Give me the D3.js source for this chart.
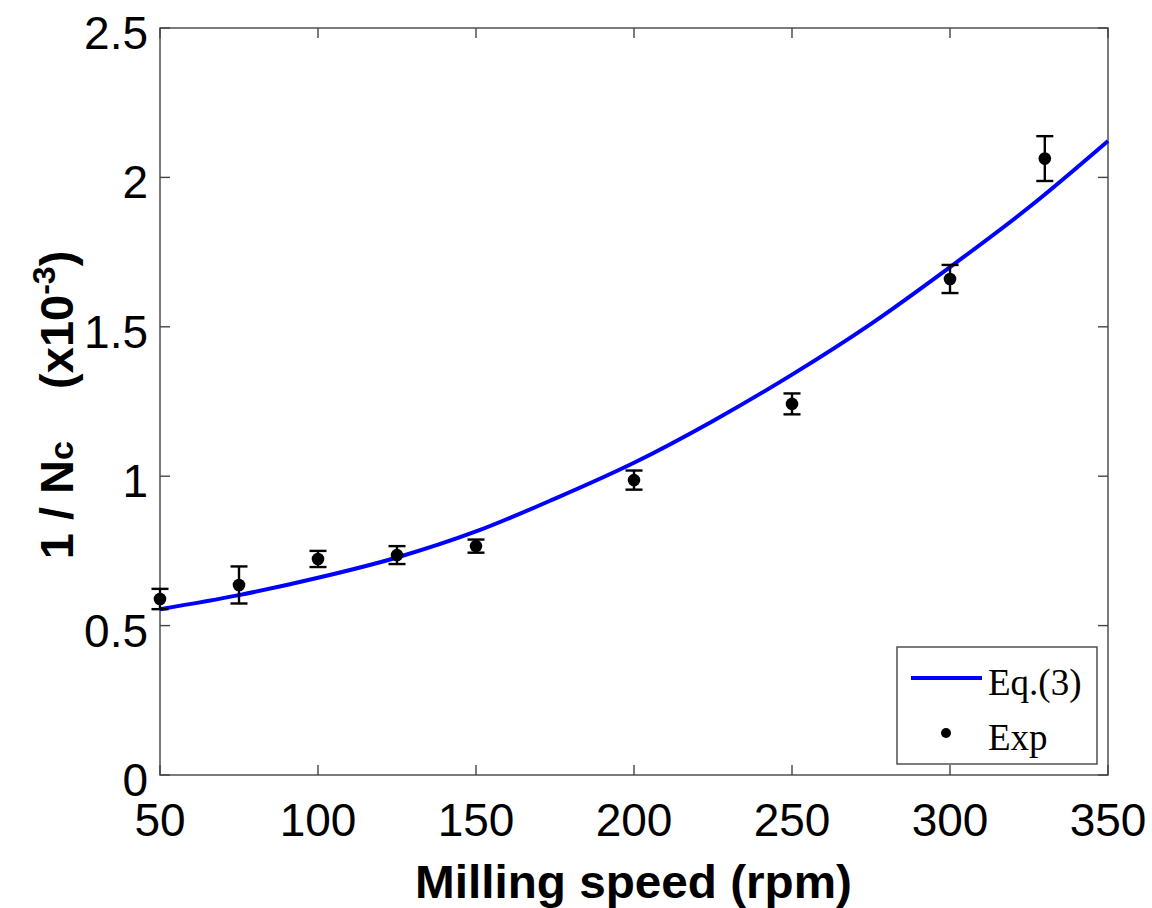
<!DOCTYPE html>
<html>
<head>
<meta charset="utf-8">
<script src="https://cdn.jsdelivr.net/npm/d3@7.9.0/dist/d3.min.js"></script>
<style>
  body { margin: 0; background: #fff; }
  svg { display: block; }
</style>
</head>
<body>
<svg id="chart" width="1152" height="908"></svg>
<script>
const speeds = [50, 75, 100, 125, 150, 200, 250, 300, 330];
const invNc = [0.589, 0.636, 0.723, 0.736, 0.766, 0.987, 1.242, 1.660, 2.063];
const errs = [0.034, 0.062, 0.027, 0.030, 0.022, 0.032, 0.035, 0.047, 0.075];

// Eq.(3) curve
const curveX = [50, 75, 100, 125, 150, 175, 200, 225, 250, 275, 300, 325, 350];
const curveY = [0.555, 0.602, 0.660, 0.728, 0.815, 0.925, 1.045, 1.185, 1.340, 1.510, 1.700, 1.900, 2.122];

const xTicks = [50, 100, 150, 200, 250, 300, 350];
const yTicks = [0, 0.5, 1, 1.5, 2, 2.5];

const svg = d3.select('#chart');
const plotL = 160, plotR = 1108, plotT = 28, plotB = 775;

const x = d3.scaleLinear().domain([50, 350]).range([plotL, plotR]);
const y = d3.scaleLinear().domain([0, 2.5]).range([plotB, plotT]);

const axisColor = '#444';
const tickFont = 'Liberation Sans, Arial, sans-serif';

// box
svg.append('rect')
  .attr('x', plotL).attr('y', plotT)
  .attr('width', plotR - plotL).attr('height', plotB - plotT)
  .attr('fill', 'none').attr('stroke', axisColor).attr('stroke-width', 1.4);

// ticks (inward, on all four sides)
const tickLen = 10;
xTicks.forEach(t => {
  svg.append('line').attr('x1', x(t)).attr('x2', x(t)).attr('y1', plotB).attr('y2', plotB - tickLen)
    .attr('stroke', axisColor).attr('stroke-width', 1.4);
  svg.append('line').attr('x1', x(t)).attr('x2', x(t)).attr('y1', plotT).attr('y2', plotT + tickLen)
    .attr('stroke', axisColor).attr('stroke-width', 1.4);
  svg.append('text').attr('x', x(t)).attr('y', plotB + 61)
    .attr('text-anchor', 'middle')
    .attr('font-family', tickFont).attr('font-size', 46)
    .text(t);
});
yTicks.forEach(t => {
  svg.append('line').attr('x1', plotL).attr('x2', plotL + tickLen).attr('y1', y(t)).attr('y2', y(t))
    .attr('stroke', axisColor).attr('stroke-width', 1.4);
  svg.append('line').attr('x1', plotR).attr('x2', plotR - tickLen).attr('y1', y(t)).attr('y2', y(t))
    .attr('stroke', axisColor).attr('stroke-width', 1.4);
  svg.append('text').attr('x', plotL - 12).attr('y', y(t) + 21)
    .attr('text-anchor', 'end')
    .attr('font-family', tickFont).attr('font-size', 46)
    .text(t);
});

// Eq.(3) line
const curveData = curveX.map((v, i) => ({ x: v, y: curveY[i] }));
const line = d3.line()
  .x(d => x(d.x))
  .y(d => y(d.y))
  .curve(d3.curveMonotoneX);

svg.append('path')
  .datum(curveData)
  .attr('d', line)
  .attr('fill', 'none')
  .attr('stroke', '#0000ff')
  .attr('stroke-width', 4);

// error bars + points
const pts = speeds.map((s, i) => ({ x: s, y: invNc[i], e: errs[i] }));
const capW = 8.5;
const eb = svg.append('g').attr('stroke', '#000').attr('stroke-width', 2.4);
pts.forEach(p => {
  eb.append('line').attr('x1', x(p.x)).attr('x2', x(p.x))
    .attr('y1', y(p.y - p.e)).attr('y2', y(p.y + p.e));
  eb.append('line').attr('x1', x(p.x) - capW).attr('x2', x(p.x) + capW)
    .attr('y1', y(p.y + p.e)).attr('y2', y(p.y + p.e));
  eb.append('line').attr('x1', x(p.x) - capW).attr('x2', x(p.x) + capW)
    .attr('y1', y(p.y - p.e)).attr('y2', y(p.y - p.e));
});
svg.append('g').selectAll('circle')
  .data(pts)
  .join('circle')
  .attr('cx', d => x(d.x))
  .attr('cy', d => y(d.y))
  .attr('r', 6.3)
  .attr('fill', '#000');

// legend
const lg = svg.append('g');
lg.append('rect')
  .attr('x', 897).attr('y', 647).attr('width', 200).attr('height', 117)
  .attr('fill', '#fff').attr('stroke', axisColor).attr('stroke-width', 1.4);
lg.append('line').attr('x1', 911).attr('x2', 982).attr('y1', 678).attr('y2', 678)
  .attr('stroke', '#0000ff').attr('stroke-width', 4);
lg.append('circle').attr('cx', 946).attr('cy', 733).attr('r', 5).attr('fill', '#000');
lg.append('text').attr('x', 988).attr('y', 695)
  .attr('font-family', 'Liberation Serif, Times New Roman, serif').attr('font-size', 37)
  .text('Eq.(3)');
lg.append('text').attr('x', 988).attr('y', 750)
  .attr('font-family', 'Liberation Serif, Times New Roman, serif').attr('font-size', 37)
  .text('Exp');

// axis titles
svg.append('text')
  .attr('x', (415 + 852) / 2).attr('y', 898)
  .attr('text-anchor', 'middle')
  .attr('font-family', tickFont).attr('font-weight', 'bold').attr('font-size', 46)
  .attr('textLength', 437).attr('lengthAdjust', 'spacingAndGlyphs')
  .text('Milling speed (rpm)');

const yl = svg.append('text')
  .attr('transform', 'translate(73,405) rotate(-90)')
  .attr('text-anchor', 'middle')
  .attr('font-family', tickFont).attr('font-weight', 'bold').attr('font-size', 47)
  .attr('xml:space', 'preserve');
yl.append('tspan').text('1 / N');
yl.append('tspan').attr('font-size', 34).text('c');
yl.append('tspan').text('    (x10');
yl.append('tspan').attr('font-size', 32).attr('dy', -18).text('-3');
yl.append('tspan').attr('dy', 18).text(')');
</script>
</body>
</html>
